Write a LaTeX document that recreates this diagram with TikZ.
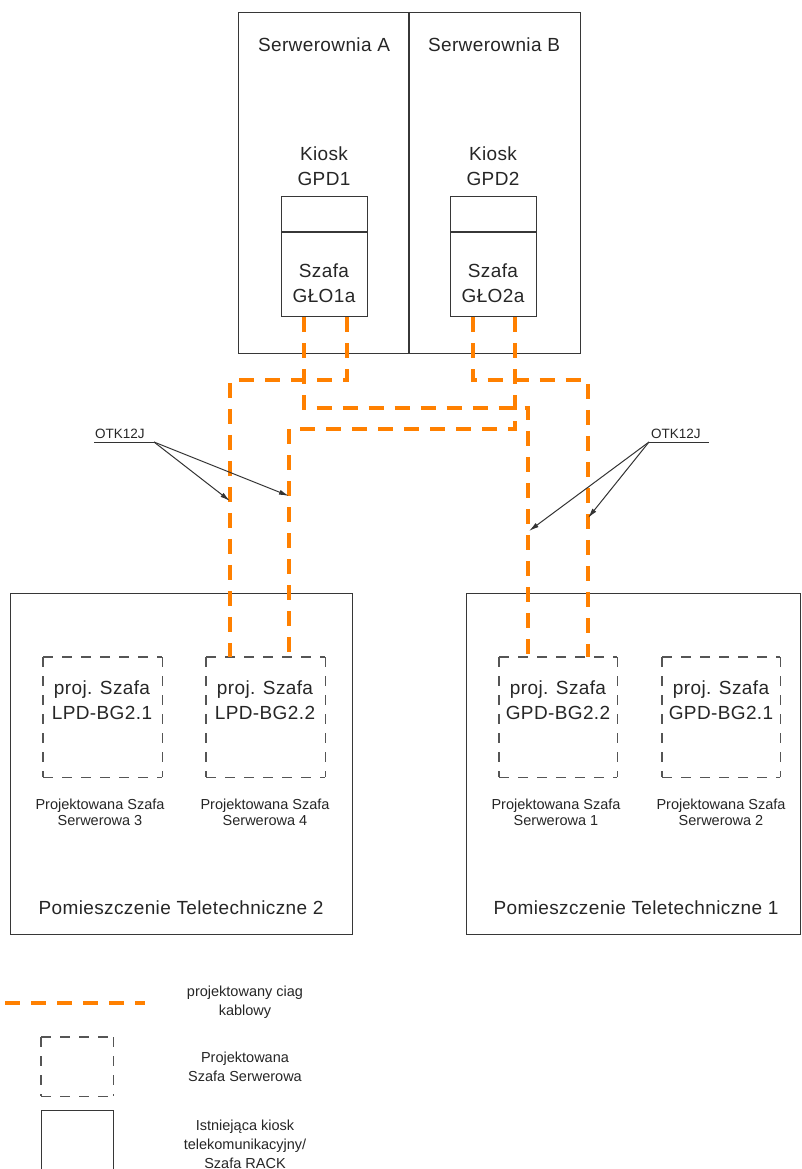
\documentclass[tikz,border=0pt]{standalone}
\usepackage{fontspec}
\setmainfont{Liberation Sans}
\usetikzlibrary{arrows.meta}
\definecolor{cableor}{RGB}{255,128,0}
\definecolor{wallc}{RGB}{55,55,55}
\definecolor{projc}{RGB}{85,85,85}
\newcommand\projsides[1]{%
  \draw[projline] (#1.north west) -- (#1.north east);
  \draw[projline] (#1.north east) -- (#1.south east);
  \draw[projline] (#1.south west) -- (#1.south east);
  \draw[projline] (#1.north west) -- (#1.south west);
}
\begin{document}
\begin{tikzpicture}[x=1pt,y=-1pt,
  wall/.style={draw=wallc, line width=1.3pt, rectangle, inner sep=0pt, anchor=north west},
  projbox/.style={rectangle, inner sep=0pt, anchor=north west},
  projline/.style={draw=projc, line width=1.7pt, dash pattern=on 10pt off 9pt},
  cable/.style={draw=cableor, line width=4pt, dash pattern=on 15pt off 11pt},
  big/.style={font=\fontsize{19}{25}\selectfont\addfontfeature{LetterSpace=2}, align=center, inner sep=0pt, text=black!85},
  small/.style={font=\fontsize{14.5}{16}\selectfont, align=center, inner sep=0pt, text=black!85},
  legtxt/.style={font=\fontsize{14.5}{19}\selectfont, align=center, inner sep=0pt, text=black!85},
  otk/.style={font=\fontsize{13.5}{15}\selectfont, inner sep=0pt, text=black!85},
  lead/.style={draw=black!80, line width=1pt, -{Latex[length=10pt,width=5pt]}}
]
\useasboundingbox (0,0) rectangle (802,1169);

% server rooms
\node[wall, minimum width=342pt, minimum height=341pt] (srv) at (238,12) {};
\draw[draw=wallc, line width=1.3pt] (409,12) -- (409,353);
\node[big] (srvA) at (324,45) {Serwerownia A};
\node[big] (srvB) at (494,45) {Serwerownia B};

% kiosks
\node[big] (kt1) at (324,166) {Kiosk\\GPD1};
\node[big] (kt2) at (493,166) {Kiosk\\GPD2};
\node[wall, minimum width=86pt, minimum height=120pt] (k1) at (281,196) {};
\node[wall, minimum width=86pt, minimum height=120pt] (k2) at (450,196) {};
\draw[draw=wallc, line width=1.3pt] ([yshift=-36pt]k1.north west) -- ([yshift=-36pt]k1.north east);
\draw[draw=wallc, line width=1.3pt] ([yshift=-36pt]k2.north west) -- ([yshift=-36pt]k2.north east);
\node[big] (s1) at (324,283) {Szafa\\GŁO1a};
\node[big] (s2) at (493,283) {Szafa\\GŁO2a};

% telecom rooms
\node[wall, minimum width=342pt, minimum height=341pt] (room2) at (10,593) {};
\node[wall, minimum width=334pt, minimum height=341pt] (room1) at (466,593) {};
\node[big] (room2t) at (181,908) {Pomieszczenie Teletechniczne 2};
\node[big] (room1t) at (636,908) {Pomieszczenie Teletechniczne 1};

% projected racks
\node[projbox, minimum width=119pt, minimum height=120pt] (l21) at (43,657) {};
\node[projbox, minimum width=119pt, minimum height=120pt] (l22) at (206,657) {};
\node[projbox, minimum width=118pt, minimum height=120pt] (g22) at (499,657) {};
\node[projbox, minimum width=118pt, minimum height=120pt] (g21) at (662,657) {};
\projsides{l21}
\projsides{l22}
\projsides{g22}
\projsides{g21}
\node[big] (l21t) at (102,700) {proj. Szafa\\LPD-BG2.1};
\node[big] (l22t) at (265,700) {proj. Szafa\\LPD-BG2.2};
\node[big] (g22t) at (558,700) {proj. Szafa\\GPD-BG2.2};
\node[big] (g21t) at (721,700) {proj. Szafa\\GPD-BG2.1};
\node[small] (l21c) at (100,812) {Projektowana Szafa\\Serwerowa 3};
\node[small] (l22c) at (265,812) {Projektowana Szafa\\Serwerowa 4};
\node[small] (g22c) at (556,812) {Projektowana Szafa\\Serwerowa 1};
\node[small] (g21c) at (721,812) {Projektowana Szafa\\Serwerowa 2};

% cables
\draw[cable] ([xshift=-21pt]k1.south) -- ++(0,91) -| ([xshift=-30pt]g22.north);
\draw[cable] ([xshift=22pt]k1.south) -- ++(0,63) -| ([xshift=-35.5pt]l22.north);
\draw[cable] ([xshift=-21pt]k2.south) -- ++(0,63) -| ([xshift=30pt]g22.north);
\draw[cable] ([xshift=21pt]k2.south) -- ++(0,112) -| ([xshift=23pt]l22.north);

% OTK12J labels
\node[otk, anchor=south west] (otkL) at (95,439) {OTK12J};
\coordinate (otkLa) at (94,442);
\coordinate (otkLb) at (154,442);
\draw[draw=black!80, line width=1pt] (otkLa) -- (otkLb);
\coordinate (tL1) at (230,501);
\coordinate (tL2) at (289,496);
\draw[lead] (otkLb) -- (tL1);
\draw[lead] (otkLb) -- (tL2);

\node[otk, anchor=south west] (otkR) at (651,439) {OTK12J};
\coordinate (otkRa) at (649,442);
\coordinate (otkRb) at (709,442);
\draw[draw=black!80, line width=1pt] (otkRa) -- (otkRb);
\coordinate (tR1) at (529,531);
\coordinate (tR2) at (588,518);
\draw[lead] (otkRa) -- (tR1);
\draw[lead] (otkRa) -- (tR2);

% legend
\coordinate (lgA) at (5,1003);
\coordinate (lgB) at (145,1003);
\draw[cable] (lgA) -- (lgB);
\node[legtxt] (lgt1) at (245,1002) {projektowany ciag\\kablowy};
\node[projbox, minimum width=72pt, minimum height=59pt] (lgbox1) at (41,1037) {};
\projsides{lgbox1}
\node[legtxt] (lgt2) at (245,1067) {Projektowana\\Szafa Serwerowa};
\node[wall, minimum width=72pt, minimum height=60pt] (lgbox2) at (41,1110) {};
\node[legtxt] (lgt3) at (245,1144) {Istniejąca kiosk\\telekomunikacyjny/\\Szafa RACK};
\end{tikzpicture}
\end{document}
